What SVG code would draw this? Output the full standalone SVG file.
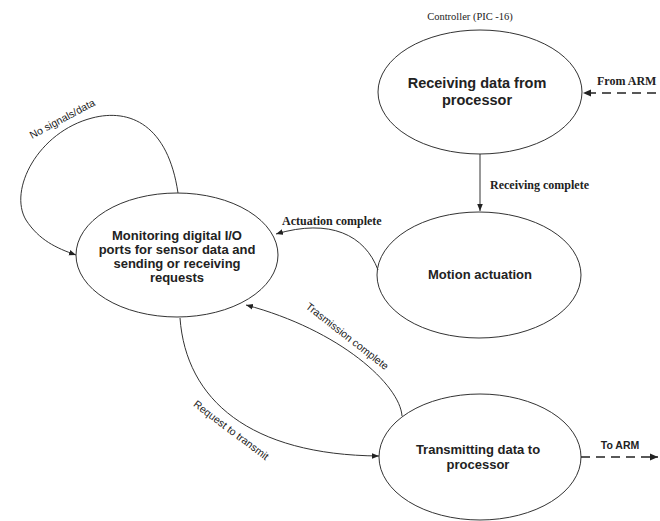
<svg xmlns="http://www.w3.org/2000/svg" width="660" height="521" viewBox="0 0 660 521">
  <defs>
    <marker id="arrow" viewBox="0 0 10 10" refX="10" refY="5" markerWidth="7" markerHeight="7" orient="auto" markerUnits="userSpaceOnUse">
      <path d="M0,1 L10,5 L0,9 z" fill="#222"/>
    </marker>
    <marker id="arrowBig" viewBox="0 0 10 10" refX="10" refY="5" markerWidth="10" markerHeight="8" orient="auto" markerUnits="userSpaceOnUse">
      <path d="M0,0.5 L10,5 L0,9.5 z" fill="#222"/>
    </marker>
  </defs>
  <style>
    .state { fill: #fff; stroke: #333; stroke-width: 1; }
    .title { font-family: "Liberation Sans", Arial, sans-serif; font-weight: bold; fill: #222; text-anchor: middle; }
    .edge { fill: none; stroke: #333; stroke-width: 1; }
    .dash { fill: none; stroke: #222; stroke-width: 1.5; stroke-dasharray: 9 6; }
    .lbl { font-family: "Liberation Sans", Arial, sans-serif; font-size: 10.5px; fill: #222; text-anchor: middle; }
    .lblb { font-family: "Liberation Serif", "Times New Roman", serif; font-weight: bold; font-size: 12px; fill: #222; }
    .cap { font-family: "Liberation Serif", "Times New Roman", serif; font-size: 10.5px; fill: #222; text-anchor: middle; }
  </style>
  <rect width="660" height="521" fill="#fff"/>

  <text class="cap" x="470" y="20">Controller (PIC -16)</text>

  <g id="receiving">
    <ellipse class="state" cx="480" cy="92" rx="102" ry="62"/>
    <text class="title" font-size="14.5" x="477" y="88">Receiving data from</text>
    <text class="title" font-size="14.5" x="477" y="105">processor</text>
  </g>

  <g id="motion">
    <ellipse class="state" cx="479" cy="275" rx="102" ry="63"/>
    <text class="title" font-size="13" x="480" y="279">Motion actuation</text>
  </g>

  <g id="monitoring">
    <ellipse class="state" cx="177" cy="255" rx="101" ry="62"/>
    <text class="title" font-size="13" x="177" y="240">Monitoring digital I/O</text>
    <text class="title" font-size="13" x="177" y="254">ports for sensor data and</text>
    <text class="title" font-size="13" x="177" y="268">sending or receiving</text>
    <text class="title" font-size="13" x="177" y="282">requests</text>
  </g>

  <g id="transmitting">
    <ellipse class="state" cx="480" cy="457" rx="101" ry="63"/>
    <text class="title" font-size="13" x="478" y="454">Transmitting data to</text>
    <text class="title" font-size="13" x="478" y="469">processor</text>
  </g>

  <g id="connectors">
    <!-- external input from ARM -->
    <path class="dash" d="M656,93 L583,93" marker-end="url(#arrowBig)"/>
    <text class="lblb" font-size="11" x="597" y="85">From ARM</text>

    <!-- receiving -> motion -->
    <path class="edge" d="M480,154 L480,211" marker-end="url(#arrow)"/>
    <text class="lblb" x="490" y="189">Receiving complete</text>

    <!-- motion -> monitoring -->
    <path class="edge" d="M378,270 C365,235 330,218 276,234" marker-end="url(#arrow)"/>
    <text class="lblb" x="282" y="225">Actuation complete</text>

    <!-- monitoring self loop -->
    <path class="edge" d="M178,193 C168,125 130,108 92,118 C38,132 8,190 26,220 C39,240 56,248 76,255" marker-end="url(#arrow)"/>
    <text class="lbl" transform="translate(64,122) rotate(-28)">No signals/data</text>

    <!-- monitoring -> transmitting -->
    <path class="edge" d="M180,318 C186,400 250,455 379,456" marker-end="url(#arrow)"/>
    <text class="lbl" font-size="11" transform="translate(229,433) rotate(37)">Request to transmit</text>

    <!-- transmitting -> monitoring -->
    <path class="edge" d="M402,416 C400,385 340,330 246,305" marker-end="url(#arrow)"/>
    <text class="lbl" font-size="11" transform="translate(345,339) rotate(38)">Trasmission complete</text>

    <!-- output to ARM -->
    <path class="dash" d="M581,457 L658,457" marker-end="url(#arrowBig)"/>
    <text class="lbl" font-weight="bold" x="620" y="449">To ARM</text>
  </g>
</svg>
